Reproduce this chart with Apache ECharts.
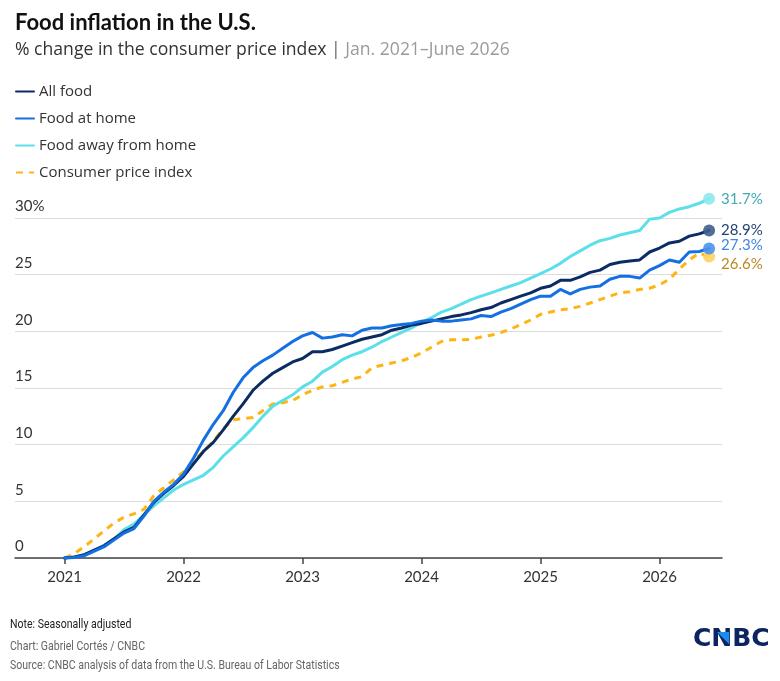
<!DOCTYPE html>
<html>
<head>
<meta charset="utf-8">
<script src="https://cdn.jsdelivr.net/npm/echarts@6/dist/echarts.min.js"></script>
<style>
html,body{margin:0;padding:0;background:#fff;}
#chart{width:780px;height:681px;}
</style>
</head>
<body>
<div id="chart"></div>
<script>
// Months since Jan. 2021 (0 = Jan. 2021 ... 65 = June 2026)
var yearTicks = [0, 12, 24, 36, 48, 60];
var yearLabels = ['2021', '2022', '2023', '2024', '2025', '2026'];
var yTicks = [0, 5, 10, 15, 20, 25, 30];

var seriesNames = ['All food', 'Food at home', 'Food away from home', 'Consumer price index'];

var allFood = [0, 0.1, 0.3, 0.7, 1.1, 1.7, 2.3, 2.7, 3.8, 4.9, 5.7, 6.4,
  7.2, 8.3, 9.4, 10.2, 11.3, 12.5, 13.6, 14.8, 15.6, 16.3, 16.8, 17.3,
  17.6, 18.2, 18.2, 18.4, 18.7, 19.0, 19.3, 19.5, 19.7, 20.1, 20.3, 20.55,
  20.7, 20.9, 21.1, 21.3, 21.45, 21.65, 21.9, 22.1, 22.5, 22.8, 23.1, 23.4,
  23.8, 24.0, 24.5, 24.5, 24.8, 25.2, 25.4, 25.9, 26.1, 26.2, 26.3, 27.0,
  27.35, 27.8, 27.95, 28.4, 28.6, 28.9];

var foodAtHome = [0, 0.05, 0.2, 0.6, 1.0, 1.6, 2.2, 2.6, 3.7, 5.0, 5.8, 6.5,
  7.4, 8.8, 10.4, 11.8, 13.0, 14.6, 15.9, 16.8, 17.4, 17.9, 18.5, 19.1,
  19.6, 19.9, 19.4, 19.5, 19.7, 19.6, 20.1, 20.3, 20.3, 20.5, 20.6, 20.7,
  20.9, 21.0, 20.9, 20.9, 21.0, 21.1, 21.4, 21.3, 21.7, 22.0, 22.4, 22.8,
  23.1, 23.1, 23.7, 23.3, 23.7, 23.9, 24.0, 24.6, 24.85, 24.85, 24.7, 25.4,
  25.8, 26.3, 26.1, 27.0, 27.05, 27.3];

var foodAway = [0, 0.1, 0.3, 0.7, 1.1, 1.7, 2.5, 3.0, 3.8, 4.6, 5.3, 6.0,
  6.5, 6.9, 7.3, 8.0, 9.0, 9.8, 10.6, 11.5, 12.5, 13.4, 13.9, 14.4,
  15.1, 15.6, 16.4, 16.9, 17.5, 17.9, 18.2, 18.6, 19.1, 19.5, 19.9, 20.3,
  20.8, 21.2, 21.7, 22.0, 22.4, 22.8, 23.1, 23.4, 23.7, 24.0, 24.3, 24.7,
  25.1, 25.5, 26.0, 26.6, 27.1, 27.6, 28.0, 28.2, 28.5, 28.7, 28.9, 29.9,
  30.0, 30.5, 30.8, 31.0, 31.3, 31.7];

var cpi = [0, 0.4, 1.0, 1.7, 2.4, 3.1, 3.6, 3.9, 4.3, 5.5, 6.2, 6.9,
  7.6, 8.6, 9.4, 10.3, 11.4, 12.2, 12.3, 12.4, 13.0, 13.6, 13.7, 13.9,
  14.4, 14.8, 15.1, 15.2, 15.5, 15.8, 16.0, 16.8, 17.0, 17.2, 17.4, 17.7,
  18.1, 18.6, 19.1, 19.25, 19.25, 19.3, 19.5, 19.65, 19.9, 20.2, 20.6, 21.0,
  21.5, 21.7, 21.9, 22.0, 22.2, 22.5, 22.8, 23.1, 23.4, 23.5, 23.7, 23.8,
  24.1, 24.6, 25.5, 26.3, 26.9, 26.6];

var lineColors = ['#0b2c63', '#1470e2', '#5ddfe9', '#fdb515'];
var dotColors = ['#3f5f8f', '#4b93ec', '#8fe9f0', '#fed163'];
var labelColors = ['#0b2c63', '#2a78e4', '#2aa0ab', '#b27c0c'];
var labelOffsets = [[0, 0], [0, -3], [0, 0], [0, 8]];

var seriesValues = [allFood, foodAtHome, foodAway, cpi];
var drawOrder = [3, 2, 0, 1];

var uiFont = 'Open Sans';
var footFont = 'Roboto';

var footerLines = [
  {text: 'Note: Seasonally adjusted', color: '#222', y: 625},
  {text: 'Chart: Gabriel Cort\u00e9s / CNBC', color: '#666', y: 647},
  {text: 'Source: CNBC analysis of data from the U.S. Bureau of Labor Statistics', color: '#666', y: 666}
];

function toPairs(arr) {
  return arr.map(function (v, i) { return [i, v]; });
}

var series = [];
drawOrder.forEach(function (k, idx) {
  var ls = {color: lineColors[k], width: 3, cap: 'round', join: 'round'};
  if (k === 3) { ls.type = [7, 6]; ls.cap = 'butt'; }
  series.push({
    name: seriesNames[k],
    type: 'line',
    data: toPairs(seriesValues[k]),
    symbol: 'none',
    showSymbol: false,
    clip: false,
    lineStyle: ls,
    itemStyle: {color: lineColors[k]},
    z: 2 + idx,
    animation: false
  });
});
drawOrder.forEach(function (k, idx) {
  var arr = seriesValues[k];
  series.push({
    name: seriesNames[k] + ' end',
    type: 'scatter',
    data: [[arr.length - 1, arr[arr.length - 1]]],
    symbolSize: 12,
    clip: false,
    itemStyle: {color: dotColors[k], opacity: 0.9},
    z: 10 + idx,
    label: {
      show: true,
      position: 'right',
      distance: 6,
      offset: labelOffsets[k],
      color: labelColors[k],
      fontSize: 15,
      fontFamily: 'Lato',
      formatter: function (p) { return p.value[1].toFixed(1) + '%'; }
    },
    animation: false
  });
});

var graphics = footerLines.map(function (f) {
  return {type: 'text', x: 10, y: f.y, scaleX: 0.78,
    style: {text: f.text, fill: f.color, fontSize: 13.5, fontFamily: footFont, verticalAlign: 'middle', align: 'left'}};
});
graphics.push({type: 'text', left: 693, top: 627,
  style: {text: 'CNBC', fontSize: 25, fontWeight: 'bold', fill: '#0c2461', fontFamily: 'DejaVu Sans'}});
graphics.push({type: 'polygon', shape: {points: [[717, 632], [729, 632], [729, 644]]},
  style: {fill: '#1a8cf0'}, z: 100});

var chart = echarts.init(document.getElementById('chart'), null, {renderer: 'canvas'});
chart.setOption({
  backgroundColor: '#ffffff',
  animation: false,
  title: [
    {text: 'Food inflation in the U.S.', left: 15, top: 12, padding: 0,
      textStyle: {fontSize: 22, fontWeight: 'bold', color: '#111', fontFamily: 'Lato'}},
    {text: '{a|% change in the consumer price index }{b|| }{c|Jan. 2021\u2013June 2026}', left: 15, top: 41, padding: 0,
      textStyle: {fontFamily: uiFont, fontWeight: 'normal', rich: {
        a: {fontSize: 17.6, color: '#333', fontFamily: uiFont, fontWeight: 'normal'},
        b: {fontSize: 17.6, color: '#666', fontFamily: uiFont, fontWeight: 'normal'},
        c: {fontSize: 17.6, color: '#9a9a9a', fontFamily: uiFont, fontWeight: 'normal'}
      }}}
  ],
  legend: {
    orient: 'vertical',
    left: 15,
    top: 84,
    padding: 0,
    itemWidth: 18,
    itemHeight: 14,
    itemGap: 12,
    data: seriesNames,
    itemStyle: {opacity: 0},
    textStyle: {fontSize: 15, color: '#333', fontFamily: uiFont},
    selectedMode: false
  },
  grid: {left: 15, right: 58, top: 218, bottom: 123, containLabel: false},
  xAxis: {
    type: 'value',
    min: -5,
    max: 66.3,
    splitLine: {show: false},
    axisLine: {show: true, lineStyle: {color: '#444', width: 1.5}},
    axisTick: {show: true, customValues: yearTicks, length: 6, lineStyle: {color: '#444', width: 1.5}},
    axisLabel: {
      customValues: yearTicks,
      margin: 12,
      fontSize: 15,
      color: '#333',
      fontFamily: 'Lato',
      formatter: function (v) { return yearLabels[yearTicks.indexOf(v)]; }
    }
  },
  yAxis: {
    type: 'value',
    min: 0,
    max: 30,
    interval: 5,
    axisLine: {show: false},
    axisTick: {show: false},
    splitLine: {show: true, lineStyle: {color: '#dcdcdc', width: 1.2}},
    axisLabel: {
      inside: true,
      margin: 0,
      verticalAlign: 'bottom',
      padding: [0, 0, 4, 0],
      fontSize: 15,
      color: '#333',
      fontFamily: 'Lato',
      formatter: function (v) { return v === 30 ? '30%' : String(v); }
    }
  },
  graphic: graphics,
  series: series
});
</script>
</body>
</html>
